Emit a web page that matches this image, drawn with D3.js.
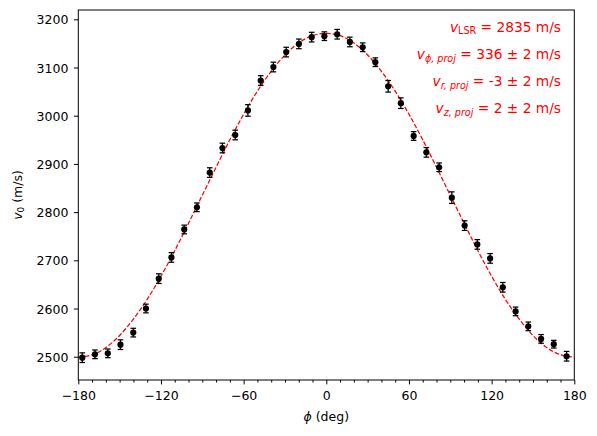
<!DOCTYPE html>
<html>
<head>
<meta charset="utf-8">
<script src="https://cdn.jsdelivr.net/npm/d3@7"></script>
<style>
  html, body { margin: 0; padding: 0; background: #fff; }
  svg { display: block; }
  text { font-family: "DejaVu Sans", sans-serif; }
</style>
</head>
<body>
<svg id="chart" width="597" height="436"></svg>
<script>
// ---- data ----
const phi = [-177.1, -167.9, -158.6, -149.4, -140.1, -130.9, -121.6, -112.4, -103.1, -93.9,
             -84.6, -75.4, -66.1, -56.9, -47.6, -38.4, -29.1, -19.9, -10.6, -1.4,
             7.9, 17.1, 26.4, 35.6, 44.9, 54.1, 63.4, 72.6, 81.9, 91.1,
             100.4, 109.6, 118.9, 128.1, 137.4, 146.6, 155.9, 165.1, 174.4];
const v0 = [2498, 2505, 2507, 2525, 2550, 2600, 2662, 2706, 2764, 2810,
            2882, 2933, 2960, 3011, 3073, 3101, 3132, 3149, 3163, 3165,
            3169, 3153, 3142, 3111, 3061, 3026, 2958, 2924, 2893, 2830,
            2772, 2733, 2704, 2644, 2594, 2563, 2537, 2526, 2501];
const v0Err = [10, 9, 9, 10, 9, 9, 10, 10, 9, 9,
               10, 10, 10, 12, 10, 10, 10, 10, 10, 9,
               10, 10, 9, 9, 12, 11, 9, 10, 9, 12,
               10, 10, 10, 10, 9, 9, 9, 8, 10];
// fitted model curve, sampled every 10 deg
const fitPhi = [-180, -170, -160, -150, -140, -130, -120, -110, -100, -90,
                -80, -70, -60, -50, -40, -30, -20, -10, 0, 10,
                20, 30, 40, 50, 60, 70, 80, 90, 100, 110,
                120, 130, 140, 150, 160, 170, 180];
const fitV = [2499, 2504, 2519, 2544, 2578, 2619, 2667, 2720, 2777, 2835,
              2893, 2950, 3003, 3051, 3092, 3126, 3151, 3166, 3171, 3166,
              3151, 3126, 3092, 3051, 3003, 2950, 2893, 2835, 2777, 2720,
              2667, 2619, 2578, 2544, 2519, 2504, 2499];
const xTicks = [-180, -120, -60, 0, 60, 120, 180];
const xMinorTicks = [-170, -160, -150, -140, -130, -110, -100, -90, -80, -70, -50, -40, -30, -20, -10,
                     10, 20, 30, 40, 50, 70, 80, 90, 100, 110, 130, 140, 150, 160, 170];
const yTicks = [2500, 2600, 2700, 2800, 2900, 3000, 3100, 3200];
const annotations = [
  { sub: "LSR", subItalic: false, rest: " = 2835 m/s" },
  { sub: "ϕ, proj", subItalic: true, rest: " = 336 ± 2 m/s" },
  { sub: "r, proj", subItalic: true, rest: " = -3 ± 2 m/s" },
  { sub: "z, proj", subItalic: true, rest: " = 2 ± 2 m/s" }
];

// ---- layout ----
const L = 78.3, R = 574.3, T = 10, B = 380;
const svg = d3.select("#chart");
const x = d3.scaleLinear().domain([-180, 180]).range([L, R]);
const y = d3.scaleLinear().domain([2451.7, 3219.3]).range([B, T]);
const fmt = d => (d < 0 ? "\u2212" + Math.abs(d) : String(d));

// fit line
const line = d3.line().x((d, i) => x(fitPhi[i])).y(d => y(d)).curve(d3.curveNatural);
svg.append("path")
  .datum(fitV)
  .attr("d", line)
  .attr("fill", "none")
  .attr("stroke", "#ff0000")
  .attr("stroke-width", 1.25)
  .attr("stroke-dasharray", "4.6,2");

// error bars
const pts = phi.map((p, i) => ({ p, v: v0[i], e: v0Err[i] }));
const eb = svg.append("g").attr("stroke", "#000").attr("stroke-width", 1.25);
eb.selectAll("line.bar").data(pts).join("line")
  .attr("x1", d => x(d.p)).attr("x2", d => x(d.p))
  .attr("y1", d => y(d.v - d.e)).attr("y2", d => y(d.v + d.e));
eb.selectAll("line.capTop").data(pts).join("line")
  .attr("x1", d => x(d.p) - 2.8).attr("x2", d => x(d.p) + 2.8)
  .attr("y1", d => y(d.v + d.e)).attr("y2", d => y(d.v + d.e));
eb.selectAll("line.capBot").data(pts).join("line")
  .attr("x1", d => x(d.p) - 2.8).attr("x2", d => x(d.p) + 2.8)
  .attr("y1", d => y(d.v - d.e)).attr("y2", d => y(d.v - d.e));

// markers
svg.append("g").selectAll("circle").data(pts).join("circle")
  .attr("cx", d => x(d.p)).attr("cy", d => y(d.v)).attr("r", 3.1)
  .attr("fill", "#000");

// frame
svg.append("rect").attr("x", L).attr("y", T).attr("width", R - L).attr("height", B - T)
  .attr("fill", "none").attr("stroke", "#000").attr("stroke-width", 1);

// axes
function styleAxis(g) {
  g.select(".domain").remove();
  g.selectAll(".tick line").attr("stroke", "#000").attr("stroke-width", 1);
  g.selectAll(".tick text").attr("fill", "#000").attr("font-size", "12.5px")
    .attr("font-family", "DejaVu Sans, sans-serif");
}
const gx = svg.append("g").attr("transform", `translate(0,${B})`)
  .call(d3.axisBottom(x).tickValues(xTicks).tickFormat(fmt).tickSize(4.4).tickPadding(4.4));
styleAxis(gx);
gx.selectAll(".tick text").attr("dy", "0.9em");
const gxm = svg.append("g").attr("transform", `translate(0,${B})`)
  .call(d3.axisBottom(x).tickValues(xMinorTicks).tickFormat("").tickSize(2.5));
styleAxis(gxm);

const gy = svg.append("g").attr("transform", `translate(${L},0)`)
  .call(d3.axisLeft(y).tickValues(yTicks).tickFormat(fmt).tickSize(4.4).tickPadding(5.5));
styleAxis(gy);
gy.selectAll(".tick text").attr("dy", "0.36em");

// axis labels
const xl = svg.append("text").attr("x", (L + R) / 2).attr("y", 421)
  .attr("text-anchor", "middle").attr("font-size", "12.5px").attr("fill", "#000");
xl.append("tspan").attr("font-style", "italic").text("ϕ");
xl.append("tspan").text(" (deg)");

const yl = svg.append("text").attr("transform", `translate(21.5,${(T + B) / 2}) rotate(-90)`)
  .attr("text-anchor", "middle").attr("font-size", "12.5px").attr("fill", "#000");
yl.append("tspan").attr("font-style", "italic").text("v");
yl.append("tspan").attr("font-size", "8.8px").attr("dy", 2.5).text("0");
yl.append("tspan").attr("dy", -2.5).text(" (m/s)");

// annotations
const ag = svg.append("g").attr("fill", "#ff0000");
annotations.forEach((a, i) => {
  const t = ag.append("text").attr("x", 561).attr("y", 31.7 + 27.2 * i)
    .attr("text-anchor", "end").attr("font-size", "13.75px");
  t.append("tspan").attr("font-style", "italic").text("v");
  t.append("tspan").attr("font-size", "9.6px").attr("dy", 2.6)
    .attr("font-style", a.subItalic ? "italic" : "normal").text(a.sub);
  t.append("tspan").attr("dy", -2.6).text(a.rest);
});
</script>
</body>
</html>
